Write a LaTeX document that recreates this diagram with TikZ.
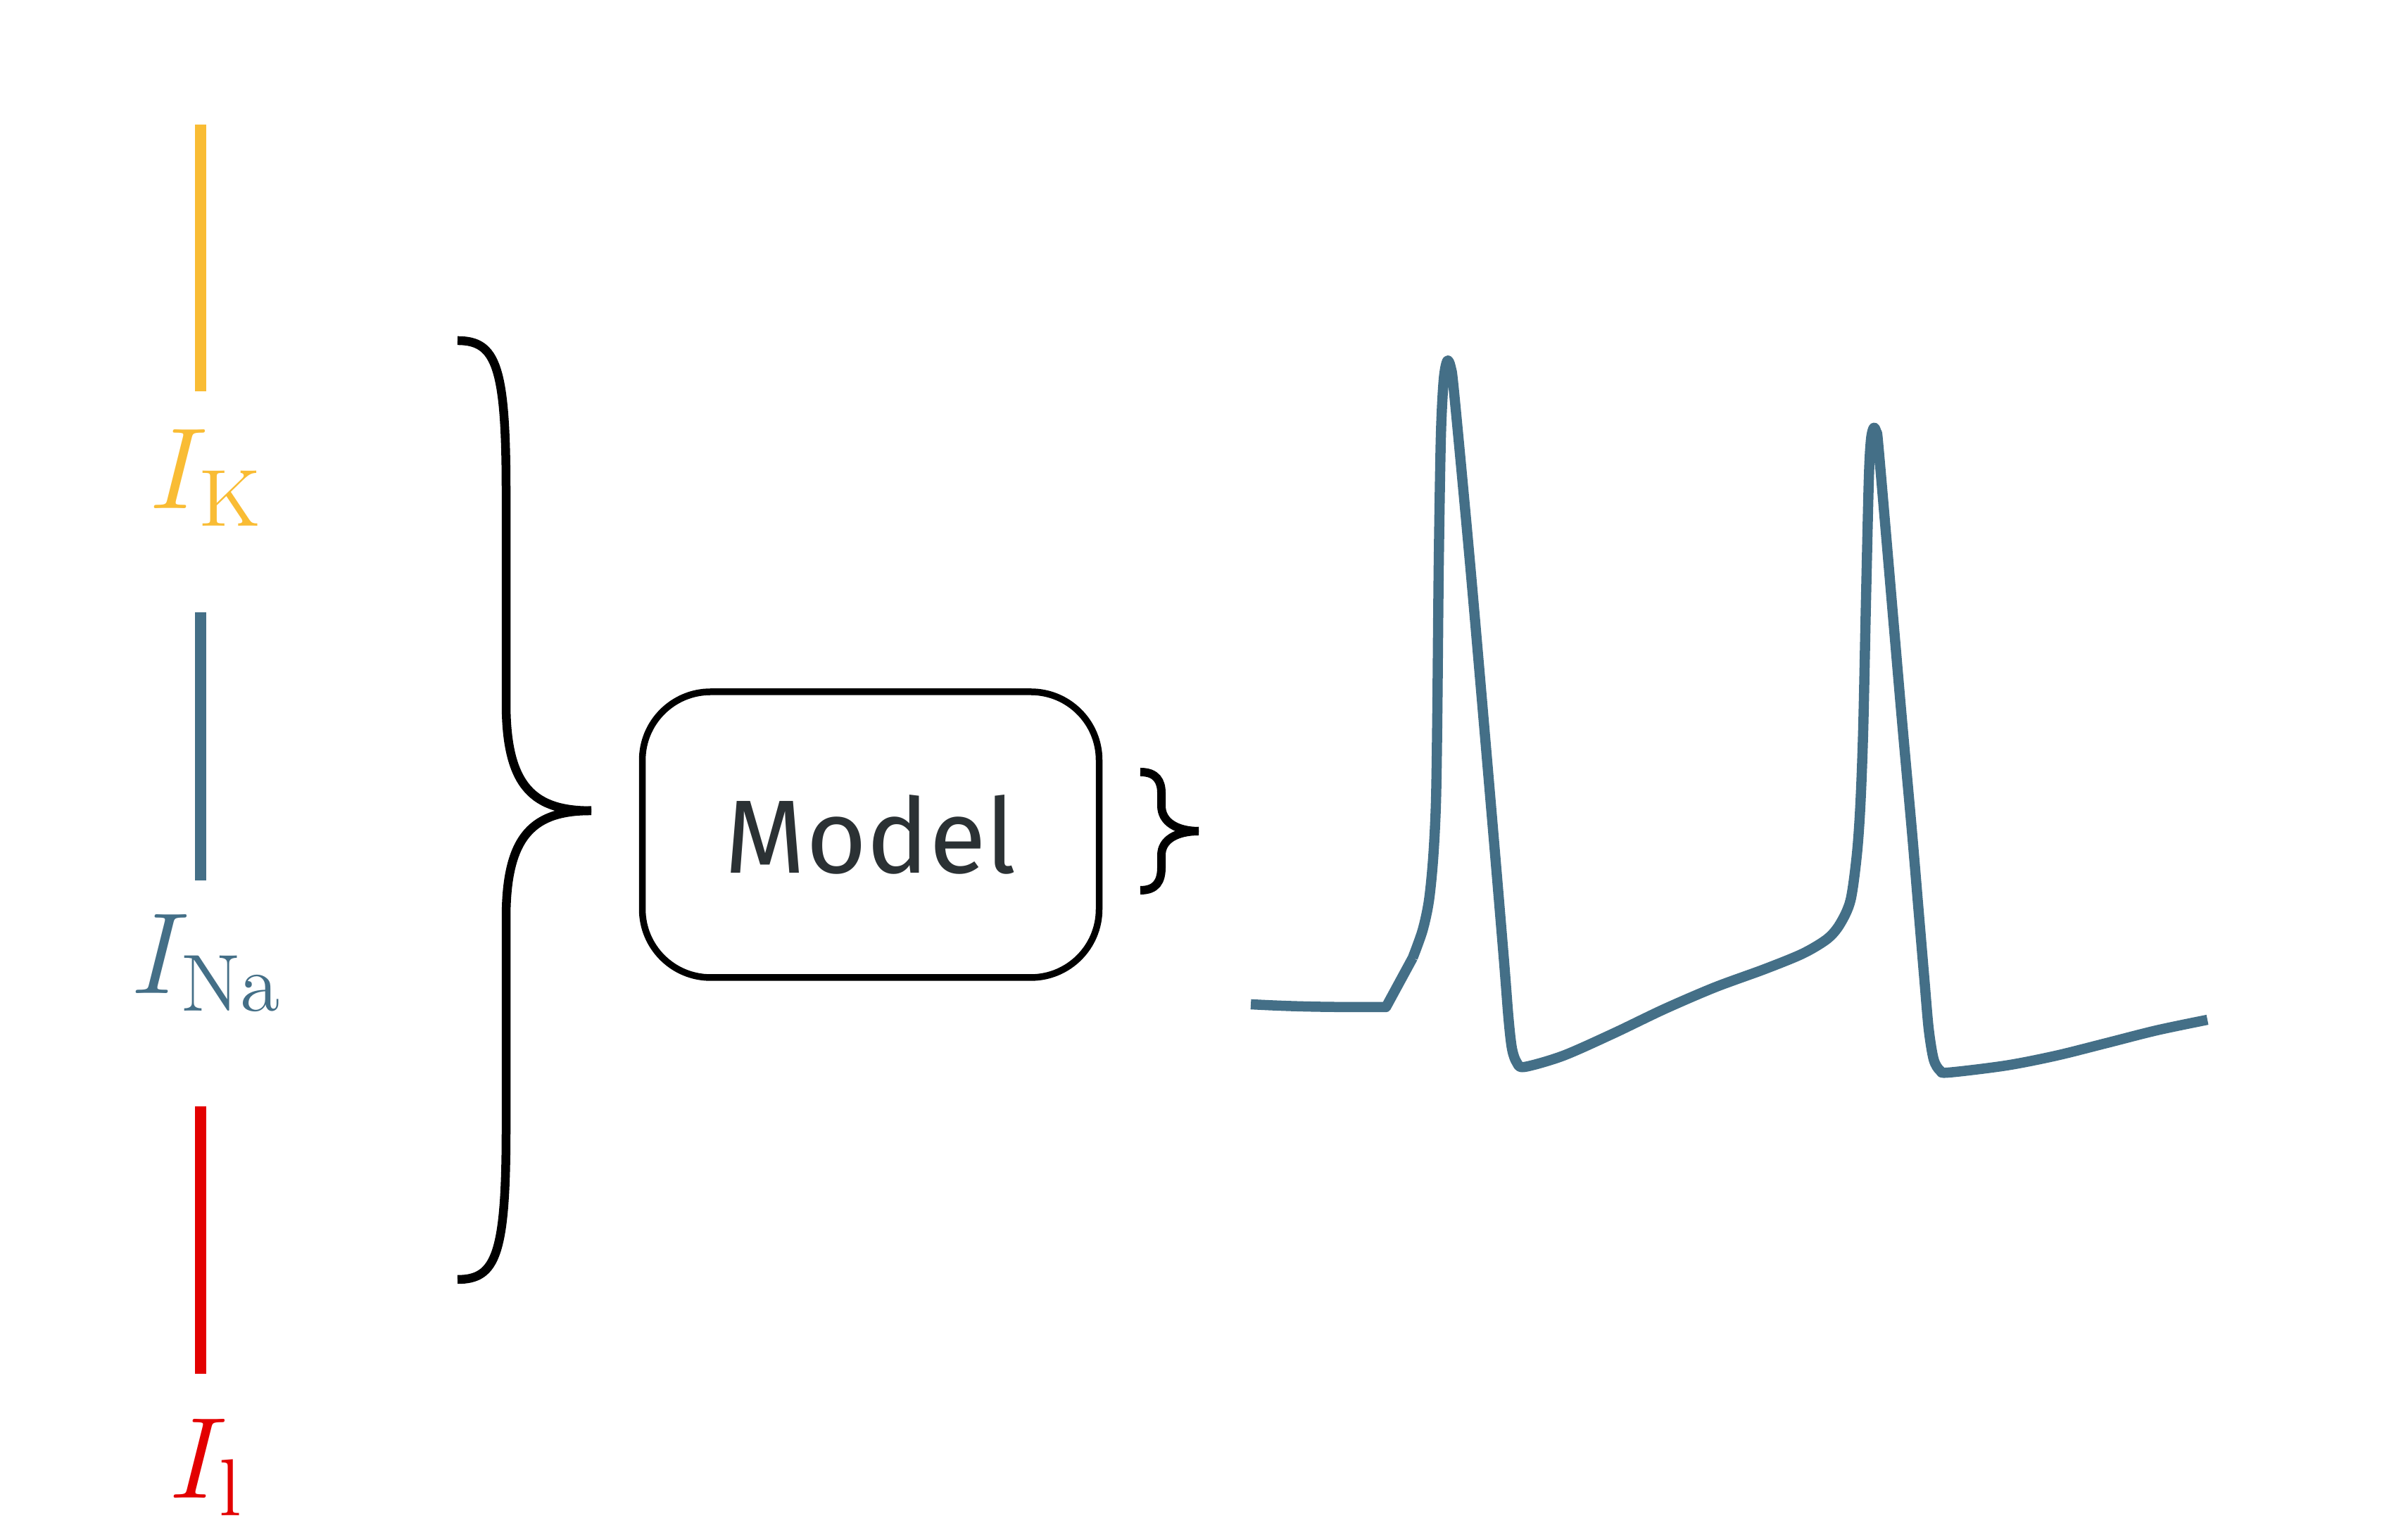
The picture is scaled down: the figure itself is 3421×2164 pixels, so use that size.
\RequirePackage{fix-cm}
\documentclass[tikz,border=0pt]{standalone}
\usepackage{fontspec}
\newfontfamily\firasans{Fira Sans}
\definecolor{kyellow}{HTML}{F9BC34}
\definecolor{nablue}{HTML}{446F87}
\definecolor{lred}{HTML}{E30000}
\definecolor{modeltext}{HTML}{2B3134}
\begin{document}
\begin{tikzpicture}[x=0.1pt,y=-0.1pt,
  bar/.style={line width=1.66pt, line cap=butt},
  curlbl/.style={anchor=base, inner sep=0pt, font=\fontsize{16.4}{19}\selectfont},
  brace/.style={line width=1.25pt, line cap=butt},
  sbrace/.style={line width=1.2pt, line cap=butt},
  trace/.style={nablue, line width=1.45pt, line join=round, line cap=butt},
  modelbox/.style={draw, line width=0.95pt, rounded corners=9.7pt,
    minimum width=64.9pt, minimum height=40.6pt, inner sep=0pt,
    text=modeltext, font=\firasans\fontsize{14.8}{18}\selectfont}]
\useasboundingbox (0,0) rectangle (3421,2164);

% current bars
\draw[bar, kyellow] (285,177) -- (285,556);
\draw[bar, nablue]  (285,870) -- (285,1251);
\draw[bar, lred]    (285,1572) -- (285,1952);

% labels
\node[curlbl, text=kyellow] (lk)  at (294,723)  {$I_{\mathrm{K}}$};
\node[curlbl, text=nablue]  (lna) at (295,1412) {$I_{\mathrm{Na}}$};
\node[curlbl, text=lred]    (ll)  at (294,2129) {$I_{\mathrm{l}}$};

% big brace
\draw[brace] (650,484) .. controls (705,484) and (719,520) .. (719,700)
  -- (719,1000) .. controls (719,1120) and (760,1152) .. (840,1152);
\draw[brace] (840,1152) .. controls (760,1152) and (719,1184) .. (719,1304)
  -- (719,1602) .. controls (719,1782) and (705,1818) .. (650,1818);

% model box
\node[modelbox] (model) at (1237,1186) {Model};

% small brace
\draw[sbrace] (1620,1097) .. controls (1643,1097) and (1650,1110) .. (1650,1127)
  -- (1650,1145) .. controls (1650,1168) and (1672,1181) .. (1703,1181);
\draw[sbrace] (1703,1181) .. controls (1672,1181) and (1650,1193) .. (1650,1215)
  -- (1650,1232) .. controls (1650,1252) and (1643,1265) .. (1620,1265);

% membrane potential trace
\draw[trace] (1777,1427) .. controls (1850,1431) and (1900,1431) .. (1969,1431)
  -- (2007,1361)
  plot[smooth, tension=0.5] coordinates {
    (2007,1361) (2021,1322) (2030,1280) (2036,1220) (2040,1140) (2042,1010)
    (2044,800) (2047,620) (2051,540) (2056,513) (2061,522) (2066,560)
    (2089,807) (2118,1143) (2136,1357) (2143,1446) (2148,1490) (2155,1510)
    (2166,1516) (2221,1500) (2293,1468) (2364,1434) (2436,1403) (2507,1377)
    (2561,1355) (2596,1334) (2614,1313) (2629,1279) (2638,1214) (2643,1143)
    (2647,1036) (2651,850) (2655,680) (2658,625) (2662,608) (2666,616)
    (2670,650) (2700,1000) (2716,1179) (2725,1286) (2734,1393) (2740,1462)
    (2747,1505) (2756,1521) (2768,1524) (2850,1514) (2921,1500) (2993,1482)
    (3064,1464) (3136,1449)};
\end{tikzpicture}
\end{document}
